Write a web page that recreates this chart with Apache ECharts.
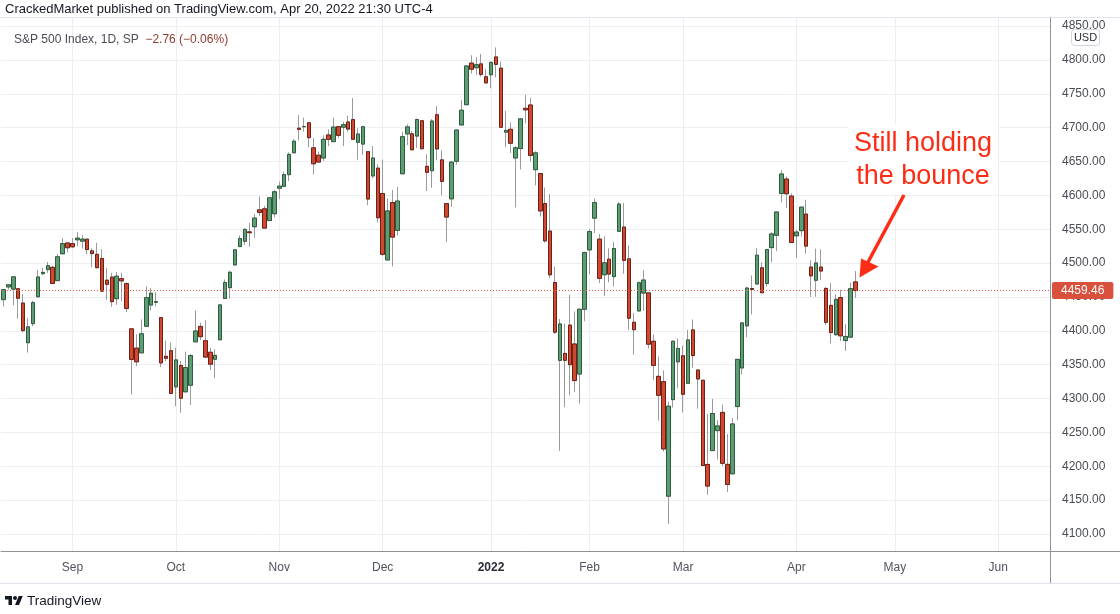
<!DOCTYPE html>
<html><head><meta charset="utf-8">
<script src="https://cdn.jsdelivr.net/npm/echarts@6/dist/echarts.min.js"></script>
<style>html,body{margin:0;padding:0;background:#fff}#c{width:1120px;height:614px}</style>
</head><body><div id="c"></div>
<script>
// ---- DATA ----
const dates = [
'2021-08-12','2021-08-13','2021-08-16','2021-08-17','2021-08-18','2021-08-19','2021-08-20','2021-08-23','2021-08-24','2021-08-25','2021-08-26','2021-08-27','2021-08-30','2021-08-31',
'2021-09-01','2021-09-02','2021-09-03','2021-09-07','2021-09-08','2021-09-09','2021-09-10','2021-09-13','2021-09-14','2021-09-15','2021-09-16','2021-09-17','2021-09-20','2021-09-21','2021-09-22','2021-09-23','2021-09-24','2021-09-27','2021-09-28','2021-09-29','2021-09-30',
'2021-10-01','2021-10-04','2021-10-05','2021-10-06','2021-10-07','2021-10-08','2021-10-11','2021-10-12','2021-10-13','2021-10-14','2021-10-15','2021-10-18','2021-10-19','2021-10-20','2021-10-21','2021-10-22','2021-10-25','2021-10-26','2021-10-27','2021-10-28','2021-10-29',
'2021-11-01','2021-11-02','2021-11-03','2021-11-04','2021-11-05','2021-11-08','2021-11-09','2021-11-10','2021-11-11','2021-11-12','2021-11-15','2021-11-16','2021-11-17','2021-11-18','2021-11-19','2021-11-22','2021-11-23','2021-11-24','2021-11-26','2021-11-29','2021-11-30',
'2021-12-01','2021-12-02','2021-12-03','2021-12-06','2021-12-07','2021-12-08','2021-12-09','2021-12-10','2021-12-13','2021-12-14','2021-12-15','2021-12-16','2021-12-17','2021-12-20','2021-12-21','2021-12-22','2021-12-23','2021-12-27','2021-12-28','2021-12-29','2021-12-30','2021-12-31',
'2022-01-03','2022-01-04','2022-01-05','2022-01-06','2022-01-07','2022-01-10','2022-01-11','2022-01-12','2022-01-13','2022-01-14','2022-01-18','2022-01-19','2022-01-20','2022-01-21','2022-01-24','2022-01-25','2022-01-26','2022-01-27','2022-01-28','2022-01-31',
'2022-02-01','2022-02-02','2022-02-03','2022-02-04','2022-02-07','2022-02-08','2022-02-09','2022-02-10','2022-02-11','2022-02-14','2022-02-15','2022-02-16','2022-02-17','2022-02-18','2022-02-22','2022-02-23','2022-02-24','2022-02-25','2022-02-28',
'2022-03-01','2022-03-02','2022-03-03','2022-03-04','2022-03-07','2022-03-08','2022-03-09','2022-03-10','2022-03-11','2022-03-14','2022-03-15','2022-03-16','2022-03-17','2022-03-18','2022-03-21','2022-03-22','2022-03-23','2022-03-24','2022-03-25','2022-03-28','2022-03-29','2022-03-30','2022-03-31',
'2022-04-01','2022-04-04','2022-04-05','2022-04-06','2022-04-07','2022-04-08','2022-04-11','2022-04-12','2022-04-13','2022-04-14','2022-04-18','2022-04-19','2022-04-20'
];
const opens = [
4446.08,4464.84,4461.65,4462.12,4440.94,4382.44,4410.56,4450.29,4484.40,4490.45,4493.75,4474.10,4513.76,4529.75,
4528.80,4534.48,4532.42,4535.38,4518.09,4513.02,4506.92,4474.81,4479.33,4447.49,4477.09,4469.74,4402.95,4374.45,4367.43,4406.75,4438.04,4442.12,4419.54,4362.41,4370.67,
4317.16,4348.84,4309.87,4319.57,4383.73,4406.51,4385.44,4368.31,4358.01,4386.75,4447.69,4463.72,4497.34,4524.42,4532.24,4546.12,4553.69,4578.69,4580.22,4562.84,4572.87,
4610.62,4613.34,4630.65,4662.93,4699.26,4701.48,4707.25,4670.26,4659.39,4655.24,4689.30,4679.42,4701.50,4700.72,4708.44,4712.00,4678.48,4675.78,4664.63,4628.75,4640.25,
4602.82,4504.73,4589.49,4548.37,4631.97,4690.86,4691.00,4687.64,4710.30,4642.99,4636.46,4719.13,4652.50,4587.90,4594.96,4650.36,4703.96,4733.99,4795.49,4788.64,4794.23,4775.21,
4778.14,4804.51,4787.99,4693.39,4697.66,4655.34,4669.14,4728.59,4733.56,4637.99,4632.24,4588.03,4547.35,4471.38,4356.32,4366.64,4408.43,4380.58,4336.19,4431.79,
4519.57,4566.39,4535.41,4482.79,4505.75,4480.02,4547.00,4553.24,4506.27,4412.61,4429.28,4455.75,4456.06,4384.57,4332.74,4324.93,4155.77,4298.38,4354.17,
4363.14,4322.56,4401.31,4342.12,4327.01,4202.66,4223.10,4252.55,4279.50,4202.75,4188.82,4288.14,4345.11,4407.34,4462.40,4469.10,4493.10,4469.98,4522.91,4541.09,4602.86,4624.20,4599.02,
4540.32,4547.97,4572.45,4494.17,4474.65,4494.15,4462.64,4437.59,4394.30,4449.12,4385.63,4390.63,4472.26
];
const highs = [
4461.77,4468.37,4480.26,4462.12,4454.32,4418.61,4444.35,4489.88,4492.81,4501.71,4495.90,4513.33,4537.36,4531.39,
4537.11,4545.85,4541.45,4535.38,4521.79,4529.90,4520.47,4492.99,4485.68,4486.87,4485.87,4471.52,4402.95,4394.87,4416.75,4465.40,4463.12,4457.30,4419.54,4385.57,4382.55,
4375.19,4355.51,4369.23,4365.57,4429.97,4412.02,4415.88,4374.89,4372.87,4439.73,4475.82,4488.75,4520.40,4540.87,4551.44,4559.67,4572.62,4598.53,4584.57,4597.55,4608.08,
4620.34,4635.15,4663.46,4683.00,4718.50,4714.92,4708.53,4684.85,4664.55,4688.47,4697.42,4714.95,4701.50,4708.80,4717.75,4743.83,4699.39,4702.87,4664.63,4672.95,4646.02,
4652.94,4595.46,4608.03,4612.60,4694.04,4705.06,4695.26,4713.57,4710.30,4660.47,4712.60,4731.99,4666.70,4587.90,4651.14,4697.67,4740.74,4791.49,4807.02,4804.06,4808.93,4786.83,
4796.64,4818.62,4797.70,4725.01,4707.95,4673.02,4714.13,4748.83,4744.13,4665.13,4632.24,4611.55,4602.11,4494.52,4417.35,4411.01,4453.23,4428.74,4432.72,4516.89,
4550.49,4595.31,4542.88,4539.66,4521.86,4531.32,4590.03,4588.92,4526.33,4426.22,4472.77,4489.55,4456.06,4394.60,4362.12,4341.51,4294.73,4385.34,4388.84,
4378.45,4401.48,4416.78,4342.12,4327.01,4276.94,4299.40,4268.28,4291.20,4247.57,4271.05,4357.86,4412.67,4465.40,4481.75,4522.00,4501.07,4520.58,4546.03,4575.65,4637.30,4627.77,4603.07,
4548.70,4583.50,4593.45,4503.94,4521.16,4520.41,4464.35,4471.00,4453.92,4460.46,4410.31,4471.03,4488.29
];
const lows = [
4435.96,4460.82,4437.66,4417.83,4397.59,4367.73,4406.80,4450.29,4482.28,4485.66,4468.99,4474.10,4513.76,4515.80,
4522.02,4524.66,4521.37,4513.00,4493.95,4492.07,4457.66,4445.70,4435.46,4438.37,4443.80,4427.76,4305.91,4347.96,4367.43,4406.75,4430.27,4436.19,4346.33,4355.08,4306.24,
4288.52,4278.94,4309.87,4290.49,4383.73,4386.22,4360.59,4342.09,4329.92,4386.75,4447.69,4447.47,4496.41,4524.40,4526.89,4524.00,4537.36,4569.17,4551.66,4562.84,4567.59,
4595.06,4613.34,4621.19,4662.59,4681.32,4694.39,4670.87,4630.86,4648.31,4650.77,4672.86,4679.42,4684.41,4672.78,4694.22,4682.17,4652.66,4659.89,4585.43,4625.26,4560.00,
4510.27,4504.73,4495.12,4540.51,4631.97,4674.52,4665.98,4670.24,4667.60,4606.52,4611.22,4651.89,4600.22,4531.10,4583.16,4645.53,4703.96,4733.99,4780.04,4778.08,4775.33,4765.75,
4758.17,4774.27,4699.44,4671.26,4662.74,4582.24,4638.27,4706.71,4650.29,4614.75,4568.70,4530.20,4477.95,4395.34,4222.62,4287.11,4304.80,4309.50,4292.46,4414.02,
4483.53,4544.32,4470.39,4451.50,4471.47,4465.40,4547.00,4484.31,4401.41,4364.84,4429.28,4429.68,4373.81,4327.22,4267.11,4221.51,4114.65,4286.83,4315.12,
4279.54,4322.56,4345.56,4284.98,4199.85,4157.87,4223.10,4209.80,4200.49,4161.72,4187.90,4267.92,4335.65,4390.57,4424.30,4469.10,4455.81,4465.17,4501.07,4517.69,4589.66,4581.32,4530.41,
4507.57,4539.21,4514.17,4450.04,4450.30,4474.60,4408.38,4381.34,4392.70,4385.00,4370.30,4390.63,4448.76
];
const closes = [
4460.83,4468.00,4479.71,4448.08,4400.27,4405.80,4441.67,4479.53,4486.23,4496.19,4470.00,4509.37,4528.79,4522.68,
4524.09,4536.95,4535.43,4520.03,4514.07,4493.28,4458.58,4468.73,4443.05,4480.70,4473.75,4432.99,4357.73,4354.19,4395.64,4448.98,4455.48,4443.11,4352.63,4359.46,4307.54,
4357.04,4300.46,4345.72,4363.55,4399.76,4391.34,4361.19,4350.65,4363.80,4438.26,4471.37,4486.46,4519.63,4536.19,4549.78,4544.90,4566.48,4574.79,4551.68,4596.42,4605.38,
4613.67,4630.65,4660.57,4680.06,4697.53,4701.70,4685.25,4646.71,4649.27,4682.85,4682.80,4700.90,4688.67,4704.54,4697.96,4682.94,4690.70,4701.46,4594.62,4655.27,4567.00,
4513.04,4577.10,4538.43,4591.67,4686.75,4701.21,4667.45,4712.02,4668.97,4634.09,4709.85,4668.67,4620.64,4568.02,4649.23,4696.56,4725.79,4791.19,4786.35,4793.06,4778.73,4766.18,
4796.56,4793.54,4700.58,4696.05,4677.03,4670.29,4713.07,4726.35,4659.03,4662.85,4577.11,4532.76,4482.73,4397.94,4410.13,4356.45,4349.93,4326.51,4431.85,4515.55,
4546.54,4589.38,4477.44,4500.53,4483.87,4521.54,4587.18,4504.08,4418.64,4401.67,4471.07,4475.01,4380.26,4348.87,4304.76,4225.50,4288.70,4384.65,4373.94,
4306.26,4386.54,4363.49,4328.87,4201.09,4170.70,4277.88,4259.52,4204.31,4173.11,4262.45,4357.86,4411.67,4463.12,4461.18,4511.61,4456.24,4520.16,4543.06,4575.52,4631.60,4602.45,4530.41,
4545.86,4582.64,4525.12,4481.15,4500.21,4488.28,4412.53,4397.45,4446.59,4392.59,4391.69,4462.21,4459.46
];
// empty future sessions shown on the time axis
const futureDates = [
'2022-04-21','2022-04-22','2022-04-25','2022-04-26','2022-04-27','2022-04-28','2022-04-29',
'2022-05-02','2022-05-03','2022-05-04','2022-05-05','2022-05-06','2022-05-09','2022-05-10','2022-05-11','2022-05-12','2022-05-13',
'2022-05-16','2022-05-17','2022-05-18','2022-05-19','2022-05-20','2022-05-23','2022-05-24','2022-05-25','2022-05-26','2022-05-27','2022-05-31',
'2022-06-01','2022-06-02','2022-06-03','2022-06-06','2022-06-07','2022-06-08','2022-06-09','2022-06-10','2022-06-13','2022-06-14','2022-06-15'
];
const tickDates  = ['2021-09-01','2021-10-01','2021-11-01','2021-12-01','2022-01-03','2022-02-01','2022-03-01','2022-04-01','2022-05-02','2022-06-01'];
const tickLabels = ['Sep','Oct','Nov','Dec','2022','Feb','Mar','Apr','May','Jun'];
const lastPrice = 4459.46;
const headerText = 'CrackedMarket published on TradingView.com, Apr 20, 2022 21:30 UTC-4';
const titleText = 'S&P 500 Index, 1D, SP';
const changeText = '\u22122.76 (\u22120.06%)';
const noteText = 'Still holding\nthe bounce';

// ---- CHART ----
const FONT = 'Liberation Sans, Arial, sans-serif';
const allDates = dates.concat(futureDates);
const tickMap = {};
tickDates.forEach((d, i) => { tickMap[d] = tickLabels[i]; });
const wickData = dates.map((d, i) => [opens[i], closes[i], lows[i], highs[i]]);
const bodyData = dates.map((d, i) => [opens[i], closes[i], Math.min(opens[i], closes[i]), Math.max(opens[i], closes[i])]);
const isTick = (i, v) => Object.prototype.hasOwnProperty.call(tickMap, v);
const RED = '#fd2c14';
const AXIS = '#8f9299';
const GRID = '#eceef2';
const PRICE_LINE = '#ea5842';

const chart = echarts.init(document.getElementById('c'), null, {renderer: 'canvas'});
chart.setOption({
  animation: false,
  backgroundColor: '#ffffff',
  textStyle: {fontFamily: FONT},
  grid: {left: 1, right: 70, top: 17, bottom: 63, containLabel: false},
  xAxis: {
    type: 'category', data: allDates, boundaryGap: true,
    axisLine: {show: true, lineStyle: {color: AXIS, width: 1}},
    axisTick: {show: false},
    axisLabel: {
      interval: isTick, color: '#50535e', fontSize: 12, margin: 11, fontFamily: FONT,
      formatter: (v) => tickMap[v] === '2022' ? '{b|2022}' : (tickMap[v] || ''),
      rich: {b: {fontWeight: 'bold', fontSize: 12, color: '#2a2e39', fontFamily: FONT}}
    },
    splitLine: {show: true, interval: isTick, alignWithLabel: true, lineStyle: {color: GRID, width: 1}}
  },
  yAxis: {
    type: 'value', position: 'right', scale: true,
    min: 4074.8, max: 4863.5, minInterval: 50, maxInterval: 50, splitNumber: 16,
    axisLine: {show: true, lineStyle: {color: AXIS, width: 1}},
    axisTick: {show: false},
    axisLabel: {
      color: '#4a4d55', fontSize: 12, margin: 12, align: 'left', fontFamily: FONT,
      showMinLabel: false, showMaxLabel: false,
      formatter: (v) => (Math.abs(v / 50 - Math.round(v / 50)) < 1e-6) ? v.toFixed(2) : ''
    },
    splitLine: {show: true, lineStyle: {color: GRID, width: 1}}
  },
  series: [
    {
      type: 'candlestick', name: 'wick', data: wickData, barWidth: 4, silent: true, z: 2,
      itemStyle: {color: 'rgba(0,0,0,0)', color0: 'rgba(0,0,0,0)', borderColor: '#9b9b9b', borderColor0: '#9b9b9b', borderWidth: 1}
    },
    {
      type: 'candlestick', name: 'S&P 500', data: bodyData, barWidth: 4, silent: true, z: 3,
      itemStyle: {color: '#5c9e73', color0: '#d2472f', borderColor: '#2f5a3d', borderColor0: '#6a2216', borderWidth: 1},
      markLine: {
        silent: true, symbol: ['none', 'none'], precision: 2,
        data: [{yAxis: lastPrice, lineStyle: {color: PRICE_LINE, type: [1, 2], width: 1, opacity: 1}}],
        lineStyle: {color: PRICE_LINE, type: [1, 2], width: 1, opacity: 1},
        emphasis: {disabled: true},
        label: {
          show: true, position: 'end', distance: 2,
          formatter: () => lastPrice.toFixed(2),
          color: '#ffffff', backgroundColor: '#d9503c', borderRadius: 2,
          padding: [3, 9, 2, 9], fontSize: 12, fontFamily: FONT
        }
      }
    }
  ],
  graphic: [
    {type: 'text', x: 5, y: 9, z: 100, style: {text: headerText, fill: '#131722', fontSize: 13, fontFamily: FONT, verticalAlign: 'middle'}},
    {type: 'line', z: 100, shape: {x1: 0, y1: 17.5, x2: 1120, y2: 17.5}, style: {stroke: '#e0e3eb', lineWidth: 1}},
    {type: 'text', x: 14, y: 40, z: 100, style: {
      text: '{a|' + titleText + '}  {b|' + changeText + '}', verticalAlign: 'middle',
      rich: {a: {fill: '#4a4d55', fontSize: 12, fontFamily: FONT}, b: {fill: '#8c3a30', fontSize: 12, fontFamily: FONT}}
    }},
    {type: 'rect', z: 100, shape: {x: 1071.5, y: 29.5, width: 28, height: 16, r: 3}, style: {fill: '#ffffff', stroke: '#d1d4dc', lineWidth: 1}},
    {type: 'text', z: 101, x: 1085.5, y: 38, style: {text: 'USD', fill: '#2a2e39', fontSize: 11, fontFamily: FONT, align: 'center', verticalAlign: 'middle'}},
    {type: 'line', z: 100, shape: {x1: 1050.5, y1: 551, x2: 1050.5, y2: 584}, style: {stroke: AXIS, lineWidth: 1}},
    {type: 'line', z: 100, shape: {x1: 1050, y1: 551.5, x2: 1120, y2: 551.5}, style: {stroke: AXIS, lineWidth: 1}},
    {type: 'line', z: 100, shape: {x1: 0, y1: 583.5, x2: 1120, y2: 583.5}, style: {stroke: '#e0e3eb', lineWidth: 1}},
    {type: 'text', z: 100, x: 923, y: 125, style: {
      text: noteText, fill: RED, fontSize: 27, lineHeight: 33, fontFamily: FONT,
      align: 'center', verticalAlign: 'top', backgroundColor: '#ffffff', padding: [2, 6, 2, 6]
    }},
    {type: 'line', z: 100, shape: {x1: 904, y1: 195, x2: 867, y2: 264}, style: {stroke: RED, lineWidth: 3.5}},
    {type: 'polygon', z: 100, shape: {points: [[859.5, 277.5], [861, 258.5], [878.5, 266.5]]}, style: {fill: RED}},
    {type: 'polygon', z: 100, shape: {points: [[5, 596], [12, 596], [12, 605], [8.5, 605], [8.5, 599.5], [5, 599.5]]}, style: {fill: '#131722'}},
    {type: 'circle', z: 100, shape: {cx: 15, cy: 598, r: 2}, style: {fill: '#131722'}},
    {type: 'polygon', z: 100, shape: {points: [[19, 605], [15, 605], [18.75, 596], [22.75, 596]]}, style: {fill: '#131722'}},
    {type: 'text', z: 100, x: 27, y: 601, style: {text: 'TradingView', fill: '#131722', fontSize: 13.5, fontFamily: FONT, verticalAlign: 'middle'}}
  ]
});
</script>
</body></html>
